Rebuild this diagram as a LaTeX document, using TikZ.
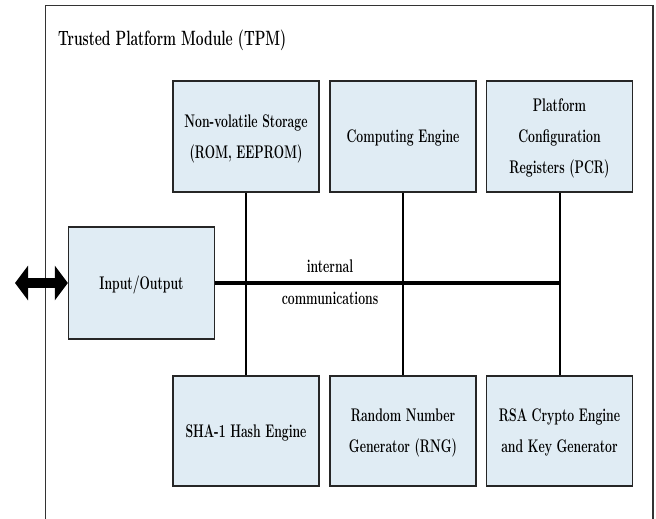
\documentclass[tikz,border=0pt]{standalone}
\usepackage{graphicx}
\usetikzlibrary{arrows.meta}
\definecolor{boxfill}{RGB}{224,236,244}
\newcommand\stx[1]{\scalebox{1}[1.5]{\begin{tabular}{@{}c@{}}#1\end{tabular}}}
\tikzset{
  unit/.style={draw=black!85, line width=1.3pt, fill=boxfill, minimum width=146pt, inner sep=0pt,
    font=\bfseries\fontsize{12.2}{20.5}\selectfont},
  tophigh/.style={minimum height=111pt},
  bothigh/.style={minimum height=110pt},
  wire/.style={line width=2pt},
  buswire/.style={line width=3.5pt},
  lbl/.style={font=\bfseries\fontsize{12.2}{20.5}\selectfont, inner sep=0pt},
}
\begin{document}
\begin{tikzpicture}[x=1pt,y=-1pt]
\useasboundingbox (0,0) rectangle (656,519);
\fill[white] (0,0) rectangle (656,519);
% outer frame
\draw[line width=1.3pt, draw=black!80] (45.5,525) -- (45.5,5.5) -- (653,5.5) -- (653,525);
\node[lbl, anchor=base west, font=\bfseries\fontsize{13.8}{20}\selectfont] (title) at (58,46) {\scalebox{1}[1.5]{Trusted Platform Module (TPM)}};
% top row
\node[unit, tophigh] (nvs) at (246,136.5) {\stx{Non-volatile Storage\\(ROM, EEPROM)}};
\node[unit, tophigh] (ce) at (403,136.5) {\stx{Computing Engine}};
\node[unit, tophigh] (pcr) at (559.5,136.5) {\stx{Platform\\Configuration\\Registers (PCR)}};
% bottom row
\node[unit, bothigh] (sha) at (246,431) {\stx{SHA-1 Hash Engine}};
\node[unit, bothigh] (rng) at (403,431) {\stx{Random Number\\Generator (RNG)}};
\node[unit, bothigh] (rsa) at (559.5,431) {\stx{RSA Crypto Engine\\and Key Generator}};
% io
\node[unit, minimum height=112pt] (io) at (141.5,283) {\stx{Input/Output}};
% wires
\draw[wire] (nvs.south) -- (sha.north);
\draw[wire] (ce.south) -- (rng.north);
\draw[wire] (pcr.south) -- (rsa.north);
\draw[buswire] (io.east) -- (io.east -| pcr.south);
\node[lbl] (lint) at (330,266) {\scalebox{1}[1.5]{internal}};
\node[lbl] (lcom) at (330,298) {\scalebox{1}[1.5]{communications}};
% external arrow
\coordinate (ext) at (15,283);
\draw[line width=10pt, {Triangle[length=13pt,width=34pt]}-{Triangle[length=13pt,width=34pt]}] (ext) -- (io.west);
\end{tikzpicture}
\end{document}
